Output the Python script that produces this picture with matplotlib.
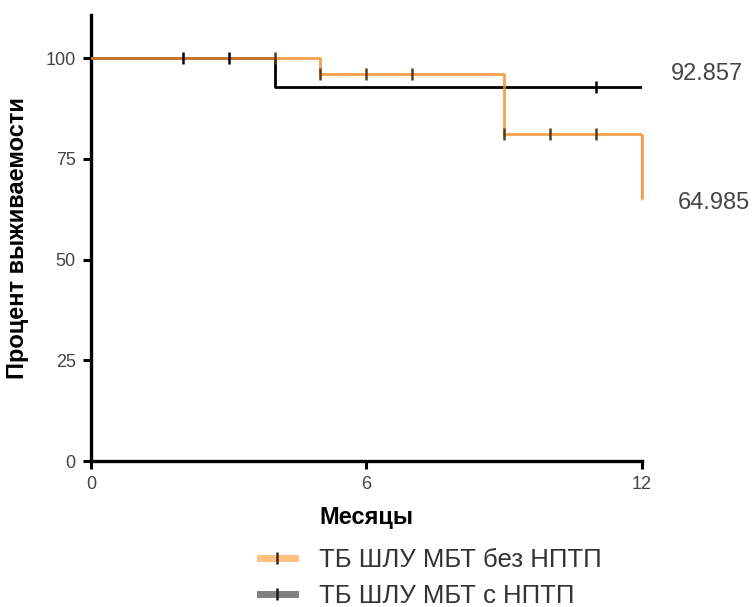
import numpy as np
import matplotlib
matplotlib.use("Agg")
import matplotlib.pyplot as plt

plt.rcParams["font.family"] = ["Liberation Sans", "DejaVu Sans"]

# Kaplan-Meier steps
orange_t = [0, 5, 9, 12]
orange_s = [100, 96.0, 81.23, 64.985]
black_t = [0, 4, 12]
black_s = [100, 92.857, 92.857]

# censored observations (months)
orange_cens = [4, 5, 6, 7, 9, 10, 11]
black_cens = [2, 3, 11]

labels = ["ТБ ШЛУ МБТ без НПТП", "ТБ ШЛУ МБТ с НПТП"]
end_labels = ["92.857", "64.985"]

ORANGE = "#F59030"
BLACK = "#000000"


def surv_at(t_steps, s_steps, times):
    idx = np.searchsorted(t_steps, times, side="right") - 1
    return np.array(s_steps)[idx]


fig = plt.figure(figsize=(7.52, 6.07), dpi=100)
ax = fig.add_axes([91 / 752, 1 - 461 / 607, (641.5 - 91) / 752, (461 - 15) / 607])

ax.step(black_t, black_s, where="post", color=BLACK, lw=2.0, zorder=3)
ax.step(orange_t, orange_s, where="post", color=ORANGE, lw=2.0, alpha=0.85, zorder=4)
ax.vlines(orange_t[-1], orange_s[-1], orange_s[-2], color=ORANGE, lw=2.0, alpha=0.85,
          zorder=4, clip_on=False)

ax.plot(black_cens, surv_at(black_t, black_s, black_cens), ls="none", marker="|",
        ms=9, mew=1.8, color=BLACK, zorder=5)
ax.plot(orange_cens, surv_at(orange_t, orange_s, orange_cens), ls="none", marker="|",
        ms=9, mew=1.8, color="#5a3a1c", zorder=5)

# legend proxies
h1, = ax.plot([], [], color="#FFC080", lw=5, marker="|", ms=9, mew=1.8, mec="#3a2a1a")
h2, = ax.plot([], [], color="#808080", lw=5, marker="|", ms=9, mew=1.8, mec="#1a1a1a")
fig.legend([h1, h2], labels, loc="upper left", bbox_to_anchor=(260 / 752, 1 - 548 / 607),
           frameon=False, fontsize=18.5, handlelength=1.35, handletextpad=0.95,
           labelspacing=0.45, borderpad=0, borderaxespad=0, labelcolor="#333333")

ax.text(12.63, 96.1, end_labels[0], fontsize=17, color="#444444", va="center",
        ha="left", clip_on=False)
ax.text(12.78, 64.1, end_labels[1], fontsize=17, color="#444444", va="center",
        ha="left", clip_on=False)

ax.set_xlim(0, 12)
ax.set_ylim(0, 110.7)
ax.set_xticks([0, 6, 12])
ax.set_yticks([0, 25, 50, 75, 100])
ax.tick_params(axis="both", length=6, width=2.2, labelsize=13, labelcolor="#444444",
               pad=5)
for side in ["top", "right"]:
    ax.spines[side].set_visible(False)
for side in ["left", "bottom"]:
    ax.spines[side].set_linewidth(2.4)

ax.set_xlabel("Месяцы", fontsize=17, fontweight="bold", labelpad=9)
ax.set_ylabel("Процент выживаемости", fontsize=17, fontweight="bold", labelpad=12)

fig.savefig("out.png", dpi=100)
